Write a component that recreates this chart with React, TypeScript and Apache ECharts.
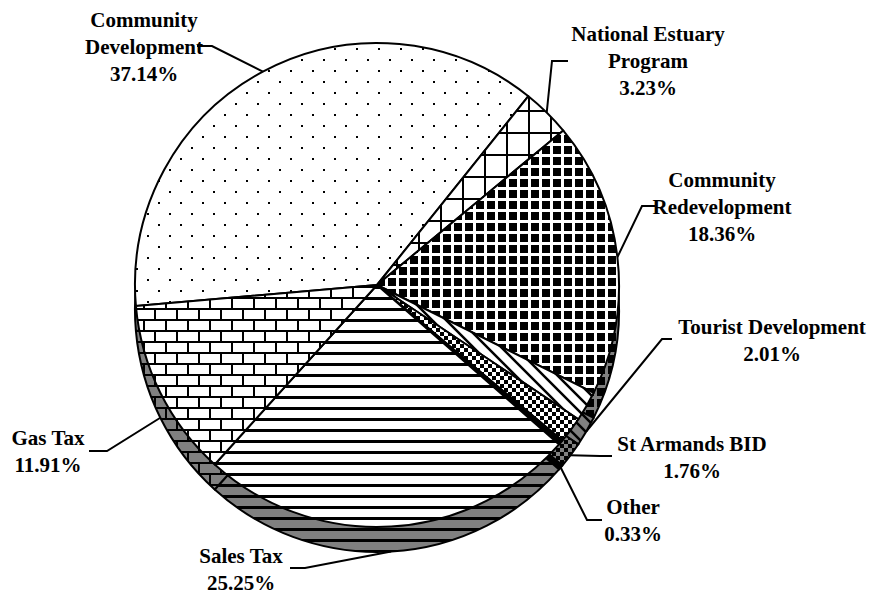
import React, { useEffect, useRef } from 'react';
import * as echarts from 'echarts';

// ---- data ----
const categories = [
  'Community\nDevelopment',
  'National Estuary\nProgram',
  'Community\nRedevelopment',
  'Tourist Development',
  'St Armands BID',
  'Other',
  'Sales Tax',
  'Gas Tax',
];
const shares = [37.14, 3.23, 18.36, 2.01, 1.76, 0.33, 25.25, 11.91];

// ---- layout / style ----
const W = 869;
const H = 596;
const CX = 377;
const CY = 285;
const R = 242;
const DEPTH = 25;
const START_ANGLE = 185;
const GREY = '#808080';
const FONT = '"Liberation Serif", "Times New Roman", serif';

const patternKinds = ['dots', 'grid', 'smallgrid', 'diag', 'checker', 'solid', 'hlines', 'brick'];
const labelCenters = [
  [144, 47], [648, 61], [722, 207], [772, 340], [692, 457], [633, 520], [241, 569], [48, 451],
];
const labelElbows = [
  [212, 46], [552, 61], [642, 206], [662, 339], [600, 456], [587, 520], [305, 568], [107, 451],
];
const labelEnds = [
  [197, 46], [568, 61], [655, 206], [672, 339], [612, 456], [602, 520], [290, 568], [89, 451],
];

function makePattern(kind: string, bg: string) {
  const size = kind === 'dots' || kind === 'grid' || kind === 'brick' ? 22 : kind === 'checker' ? 8 : kind === 'diag' ? 14 : 11;
  const c = document.createElement('canvas');
  c.width = size;
  c.height = size;
  const g = c.getContext('2d')!;
  g.fillStyle = bg;
  g.fillRect(0, 0, size, size);
  g.fillStyle = '#000';
  g.strokeStyle = '#000';
  switch (kind) {
    case 'dots':
      g.fillRect(4, 4, 2, 2);
      g.fillRect(15, 15, 2, 2);
      break;
    case 'grid':
      g.fillRect(0, 0, size, 2);
      g.fillRect(0, 0, 2, size);
      break;
    case 'smallgrid':
      g.fillRect(0, 0, size, size);
      g.fillStyle = bg;
      g.fillRect(0, 0, size, 3);
      g.fillRect(0, 0, 3, size);
      break;
    case 'diag':
      g.lineWidth = 2.5;
      g.beginPath();
      g.moveTo(-2, -2); g.lineTo(size + 2, size + 2);
      g.moveTo(size - 2, -2); g.lineTo(size + 2, 2);
      g.moveTo(-2, size - 2); g.lineTo(2, size + 2);
      g.stroke();
      break;
    case 'checker':
      g.fillRect(0, 0, size, size);
      g.fillStyle = bg;
      g.fillRect(0, 0, 4, 4);
      g.fillRect(4, 4, 4, 4);
      break;
    case 'solid':
      g.fillRect(0, 0, size, size);
      break;
    case 'hlines':
      g.fillRect(0, 0, size, 3);
      break;
    case 'brick':
      g.fillRect(0, 0, size, 2);
      g.fillRect(0, 11, size, 2);
      g.fillRect(0, 0, 2, 11);
      g.fillRect(11, 11, 2, 11);
      break;
  }
  return { image: c, repeat: 'repeat', imageWidth: size, imageHeight: size } as any;
}

export default function App() {
  const ref = useRef<HTMLDivElement>(null);
  useEffect(() => {
    if (!ref.current) return;
    const chart = echarts.init(ref.current, undefined, { renderer: 'svg' });
    const total = shares.reduce((a, b) => a + b, 0);
    let cum = 0;
    const mids = shares.map((v) => {
      const m = -START_ANGLE + ((cum + v / 2) / total) * 360;
      cum += v;
      return m;
    });
    const anchor = (i: number) => {
      const a = (mids[i] * Math.PI) / 180;
      const s = Math.sin(a);
      const c = Math.cos(a);
      return [CX + R * c, CY + R * s + (s > 0.05 ? DEPTH : 0)];
    };
    chart.setOption({
      animation: false,
      backgroundColor: '#fff',
      series: [
        {
          type: 'pie',
          center: [CX, CY + DEPTH],
          radius: R,
          startAngle: START_ANGLE,
          clockwise: true,
          silent: true,
          avoidLabelOverlap: false,
          label: { show: false },
          labelLine: { show: false },
          itemStyle: { borderColor: '#000', borderWidth: 2 },
          emphasis: { disabled: true },
          data: shares.map((v, i) => ({
            name: categories[i],
            value: v,
            itemStyle: { color: makePattern(patternKinds[i], GREY) },
          })),
        },
        {
          type: 'pie',
          center: [CX, CY],
          radius: R,
          startAngle: START_ANGLE,
          clockwise: true,
          silent: true,
          avoidLabelOverlap: false,
          itemStyle: { borderColor: '#000', borderWidth: 2 },
          emphasis: { disabled: true },
          label: {
            show: true,
            position: 'outside',
            formatter: (p: any) => `${p.name}\n${Number(p.value).toFixed(2)}%`,
            fontFamily: FONT,
            fontWeight: 'bold',
            fontSize: 21,
            lineHeight: 27,
            color: '#000',
            align: 'center',
          },
          labelLine: { show: true, lineStyle: { color: '#000', width: 2 } },
          labelLayout: (params: any) => {
            const i = params.dataIndex;
            return {
              x: labelCenters[i][0],
              y: labelCenters[i][1],
              align: 'center',
              verticalAlign: 'middle',
              labelLinePoints: [anchor(i), labelElbows[i], labelEnds[i]],
            };
          },
          data: shares.map((v, i) => ({
            name: categories[i],
            value: v,
            itemStyle: { color: makePattern(patternKinds[i], '#fff') },
          })),
        },
      ],
    });
    return () => chart.dispose();
  }, []);
  return (
    <div
      ref={ref}
      style={{ position: 'absolute', left: 0, top: 0, width: W, height: H }}
    />
  );
}
